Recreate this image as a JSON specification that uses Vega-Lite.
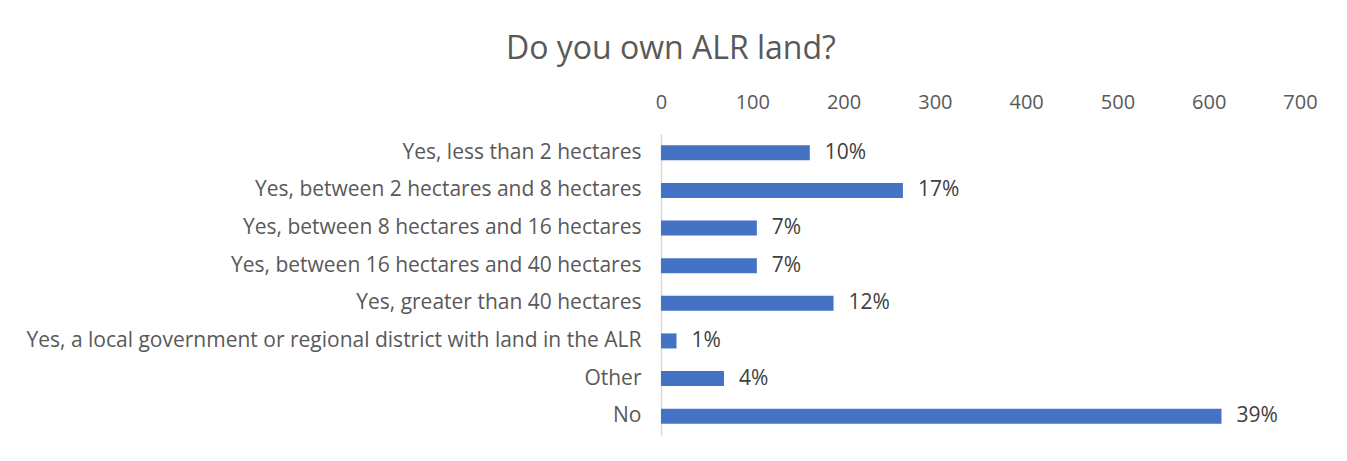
{
  "$schema": "https://vega.github.io/schema/vega-lite/v6.json",
  "width": 639,
  "height": 301,
  "autosize": {"type": "none"},
  "padding": {"left": 661, "top": 134, "right": 47, "bottom": 26},
  "background": "white",
  "title": {
    "text": "Do you own ALR land?",
    "font": "Open Sans",
    "fontSize": 32,
    "fontWeight": "normal",
    "color": "#595959",
    "anchor": "start",
    "frame": "group",
    "dx": -155,
    "offset": 26
  },
  "data": {
    "values": [
      {"answer": "Yes, less than 2 hectares ", "count": 163, "pct": "10%"},
      {"answer": "Yes, between 2 hectares and 8 hectares", "count": 265, "pct": "17%"},
      {"answer": "Yes, between 8 hectares and 16 hectares ", "count": 105, "pct": "7%"},
      {"answer": "Yes, between 16 hectares and 40 hectares ", "count": 105, "pct": "7%"},
      {"answer": "Yes, greater than 40 hectares", "count": 189, "pct": "12%"},
      {"answer": "Yes, a local government or regional district with land in the ALR", "count": 17, "pct": "1%"},
      {"answer": "Other", "count": 69, "pct": "4%"},
      {"answer": "No", "count": 614, "pct": "39%"}
    ]
  },
  "encoding": {
    "y": {
      "field": "answer",
      "type": "nominal",
      "sort": null,
      "scale": {"paddingInner": 0.6, "paddingOuter": 0.3},
      "axis": {
        "title": null,
        "ticks": false,
        "domain": true,
        "domainColor": "#D9D9D9",
        "domainWidth": 1.5,
        "labelFont": "Open Sans",
        "labelFontSize": 21,
        "labelColor": "#595959",
        "labelPadding": 20,
        "labelLimit": 800
      }
    },
    "x": {
      "field": "count",
      "type": "quantitative",
      "scale": {"domain": [0, 700], "nice": false},
      "axis": {
        "orient": "top",
        "title": null,
        "values": [0, 100, 200, 300, 400, 500, 600, 700],
        "ticks": false,
        "domain": false,
        "grid": false,
        "labelFlush": false,
        "labelFont": "Open Sans",
        "labelFontSize": 20,
        "labelColor": "#595959",
        "labelPadding": 22
      }
    }
  },
  "layer": [
    {"mark": {"type": "bar", "color": "#4472C4"}},
    {
      "mark": {
        "type": "text",
        "align": "left",
        "baseline": "middle",
        "dx": 15,
        "font": "Open Sans",
        "fontSize": 21,
        "color": "#404040"
      },
      "encoding": {"text": {"field": "pct"}}
    }
  ],
  "config": {"view": {"stroke": null}}
}
